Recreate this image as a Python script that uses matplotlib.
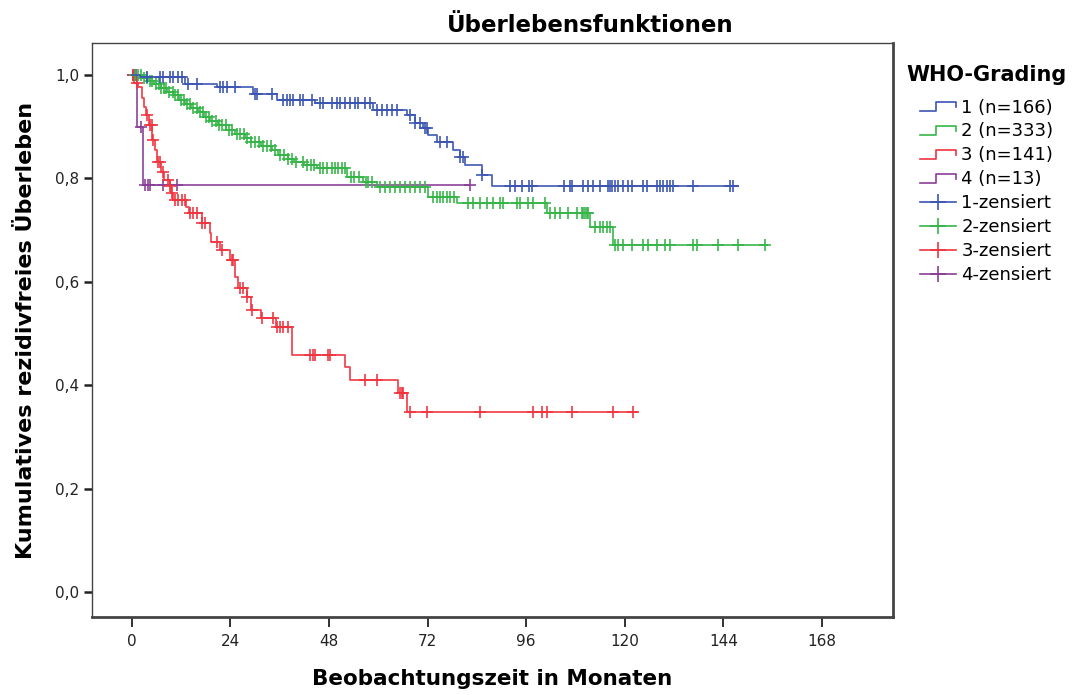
import numpy as np
import matplotlib
matplotlib.use("Agg")
import matplotlib.pyplot as plt
from matplotlib.lines import Line2D
from matplotlib.legend_handler import HandlerBase
from matplotlib.ticker import FuncFormatter

# step times (months) and survival values per WHO grade
g1_t = [0, 2.0, 12.9, 20.7, 29.5, 35.3, 44.5, 58.7, 67.0, 68.9, 70.9, 72.1, 74.3, 78.2, 79.9, 81.1, 85.2, 87.7]
g1_s = [1.0, 0.996, 0.983, 0.977, 0.963, 0.952, 0.946, 0.932, 0.923, 0.907, 0.897, 0.884, 0.870, 0.855, 0.841, 0.826, 0.807, 0.785]
g1_end = 147.6
g1_cens = [3.7, 6.8, 7.5, 9.3, 10.0, 11.2, 12.2, 13.6, 15.8, 21.4, 22.2, 23.1, 25.1, 29.9, 30.4, 34.1,
           36.8, 37.7, 38.5, 39.2, 40.9, 41.6, 43.8, 45.8, 46.5, 48.7, 49.9, 50.6, 51.8, 53.1, 54.3, 55.0,
           56.7, 57.9, 59.7, 60.9, 62.1, 63.3, 64.5, 67.7, 68.9, 70.1, 71.4, 71.8, 75.0, 76.7, 79.9, 80.6,
           85.2, 92.0, 93.3, 95.0, 96.7, 97.4, 105.2, 106.6, 107.1, 109.8, 111.0, 112.2, 114.0, 115.9,
           116.4, 116.9, 117.6, 118.3, 119.5, 120.8, 121.7, 124.4, 125.4, 127.8, 128.6, 129.3, 130.3,
           131.0, 131.8, 136.6, 145.6, 146.4]

g2_t = [0, 2.5, 4.0, 5.5, 7.0, 8.5, 10.0, 11.5, 13.0, 14.5, 16.0, 17.5, 19.0, 21.0, 23.0, 25.0, 27.5,
        29.0, 31.5, 34.0, 35.5, 38.0, 39.5, 42.0, 45.0, 52.3, 56.2, 59.7, 72.1, 79.1, 101.0, 111.5, 117.1]
g2_s = [1.0, 0.994, 0.988, 0.982, 0.975, 0.968, 0.961, 0.952, 0.944, 0.936, 0.928, 0.919, 0.911, 0.903,
        0.894, 0.886, 0.878, 0.870, 0.862, 0.855, 0.845, 0.838, 0.832, 0.826, 0.820, 0.803, 0.793, 0.783,
        0.765, 0.752, 0.733, 0.706, 0.671]
g2_end = 154.6
g2_cens = [0.8, 1.5, 2.2, 3.0, 3.6, 4.3, 5.0, 5.8, 6.5, 7.0, 7.8, 8.4, 9.1, 9.9, 10.6, 11.2, 12.0, 12.7,
           13.5, 14.2, 15.0, 15.8, 16.6, 17.3, 18.0, 18.8, 19.6, 20.5, 21.3, 22.0, 22.8, 23.6, 24.5, 25.5,
           26.3, 27.2, 28.0, 29.0, 30.0, 31.0, 32.0, 32.8, 33.8, 34.8, 36.0, 37.0, 38.0, 39.0, 40.0, 41.6,
           42.6, 43.5, 44.4, 45.8, 46.5, 47.5, 48.7, 49.4, 50.3, 51.1, 52.0, 53.3, 54.0, 55.2, 56.9, 57.6,
           58.4, 60.4, 61.6, 62.8, 64.0, 65.3, 66.5, 67.7, 68.9, 70.1, 71.4, 73.3, 74.3, 75.0, 75.7, 76.7,
           77.4, 78.4, 81.8, 83.0, 84.7, 86.4, 87.9, 89.6, 90.3, 93.7, 94.5, 96.4, 97.6, 100.6, 101.8,
           103.0, 104.2, 106.2, 108.4, 109.6, 109.8, 110.3, 110.8, 111.0, 112.7, 114.0, 114.7, 115.7,
           116.4, 117.6, 118.3, 119.5, 121.7, 124.4, 125.6, 127.8, 129.8, 131.0, 136.6, 137.6, 142.7,
           147.6, 154.1]

g3_t = [0, 0.5, 1.5, 2.5, 3.0, 3.5, 4.2, 5.0, 5.6, 6.2, 7.2, 7.8, 9.2, 9.5, 10.0, 13.2, 14.0, 17.0,
        19.0, 19.2, 21.4, 24.0, 25.0, 25.8, 28.0, 29.0, 31.5, 35.0, 38.9, 51.8, 53.0, 64.8, 67.0]
g3_s = [1.0, 0.985, 0.977, 0.955, 0.938, 0.923, 0.903, 0.874, 0.855, 0.832, 0.812, 0.797, 0.785, 0.772,
        0.758, 0.745, 0.733, 0.714, 0.694, 0.677, 0.661, 0.642, 0.609, 0.588, 0.571, 0.545, 0.530,
        0.513, 0.458, 0.435, 0.410, 0.385, 0.348]
g3_end = 123.0
g3_cens = [0.3, 1.2, 3.6, 4.4, 4.9, 5.1, 6.3, 6.8, 7.5, 8.8, 9.3, 9.7, 10.5, 11.2, 12.2, 12.9, 14.1,
           14.9, 15.8, 17.0, 17.8, 20.7, 21.9, 24.3, 24.6, 26.3, 27.0, 28.0, 29.2, 31.7, 34.3, 35.3,
           36.0, 36.8, 38.0, 43.3, 44.1, 44.6, 47.7, 48.2, 56.7, 59.7, 65.3, 65.7, 66.0, 67.7, 71.8,
           84.7, 97.6, 99.8, 101.0, 107.1, 117.1, 122.0]

g4_t = [0, 1.2, 2.7]
g4_s = [1.0, 0.90, 0.787]
g4_end = 82.3
g4_cens = [0.2, 0.6, 1.0, 2.3, 3.2, 3.9, 4.4, 7.5, 11.0, 82.3]

group_labels = ["1 (n=166)", "2 (n=333)", "3 (n=141)", "4 (n=13)"]
cens_labels = ["1-zensiert", "2-zensiert", "3-zensiert", "4-zensiert"]
colors = ["#3b55b3", "#35b547", "#f0343e", "#8a3d96"]

groups = [
    (g1_t, g1_s, g1_end, g1_cens),
    (g2_t, g2_s, g2_end, g2_cens),
    (g3_t, g3_s, g3_end, g3_cens),
    (g4_t, g4_s, g4_end, g4_cens),
]


class StepHandler(HandlerBase):
    def create_artists(self, legend, orig_handle, xdescent, ydescent, width, height, fontsize, trans):
        x0 = -xdescent
        y0 = -ydescent
        xs = [x0, x0 + 0.45 * width, x0 + 0.45 * width, x0 + width, x0 + width]
        ys = [y0 + 0.1 * height, y0 + 0.1 * height, y0 + 0.85 * height, y0 + 0.85 * height, y0 + 0.4 * height]
        line = Line2D(xs, ys, color=orig_handle.get_color(), lw=1.2, transform=trans)
        return [line]


fig = plt.figure(figsize=(10.72, 6.95), dpi=100)
ax = fig.add_axes([92 / 1072, 1 - 617 / 695, 801 / 1072, 574 / 695])

zorders = [5, 4, 3, 2]
for (t, s, end, cens), col, z in zip(groups, colors, zorders):
    t = np.asarray(t)
    s = np.asarray(s)
    ax.step(np.append(t, end), np.append(s, s[-1]), where="post", color=col, lw=1.3, alpha=0.9, zorder=z)
    c = np.asarray(cens)
    cy = s[np.searchsorted(t, c, side="right") - 1]
    ax.plot(c, cy, linestyle="none", marker="+", markersize=8.5, markeredgewidth=1.3,
            color=col, alpha=0.9, zorder=z)

ax.set_xlim(-9.7, 185.3)
ax.set_ylim(-0.048, 1.062)
ax.set_xticks([0, 24, 48, 72, 96, 120, 144, 168])
ax.set_yticks([0.0, 0.2, 0.4, 0.6, 0.8, 1.0])
ax.yaxis.set_major_formatter(FuncFormatter(lambda v, p: f"{v:.1f}".replace(".", ",")))
ax.tick_params(axis="x", direction="out", length=7, width=1.3, labelsize=11, pad=5, colors="#222222")
ax.tick_params(axis="y", direction="out", length=6, width=1.8, labelsize=11, pad=3, colors="#222222")

for side in ["left", "top"]:
    ax.spines[side].set_linewidth(1.0)
    ax.spines[side].set_color("#444444")
for side in ["right", "bottom"]:
    ax.spines[side].set_linewidth(2.0)
    ax.spines[side].set_color("#444444")

ax.set_xlabel("Beobachtungszeit in Monaten", fontsize=15.5, fontweight="bold")
ax.set_ylabel("Kumulatives rezidivfreies Überleben", fontsize=16, fontweight="bold")
ax.xaxis.set_label_coords(0.5, -0.09)
ax.yaxis.set_label_coords(-0.07, 0.5)

fig.text(590 / 1072, 1 - 25 / 695, "Überlebensfunktionen", fontsize=16.5, fontweight="bold",
         ha="center", va="center")

handles = [Line2D([], [], color=c) for c in colors]
handles += [Line2D([], [], color=c, marker="+", markersize=11, markeredgewidth=1.2, lw=1.2) for c in colors]
labels = group_labels + cens_labels
handler_map = {h: StepHandler() for h in handles[:4]}
leg = fig.legend(handles, labels, handler_map=handler_map, loc="upper left",
                 bbox_to_anchor=(894 / 1072, 1 - 52 / 695), frameon=False, fontsize=13,
                 title="WHO-Grading", title_fontproperties={"weight": "bold", "size": 15},
                 handlelength=2.0, handletextpad=0.3, labelspacing=0.33, borderpad=0.2)
# extra gap between legend title and the entries
leg._legend_box.sep = 10

fig.savefig("out.png", dpi=100)
